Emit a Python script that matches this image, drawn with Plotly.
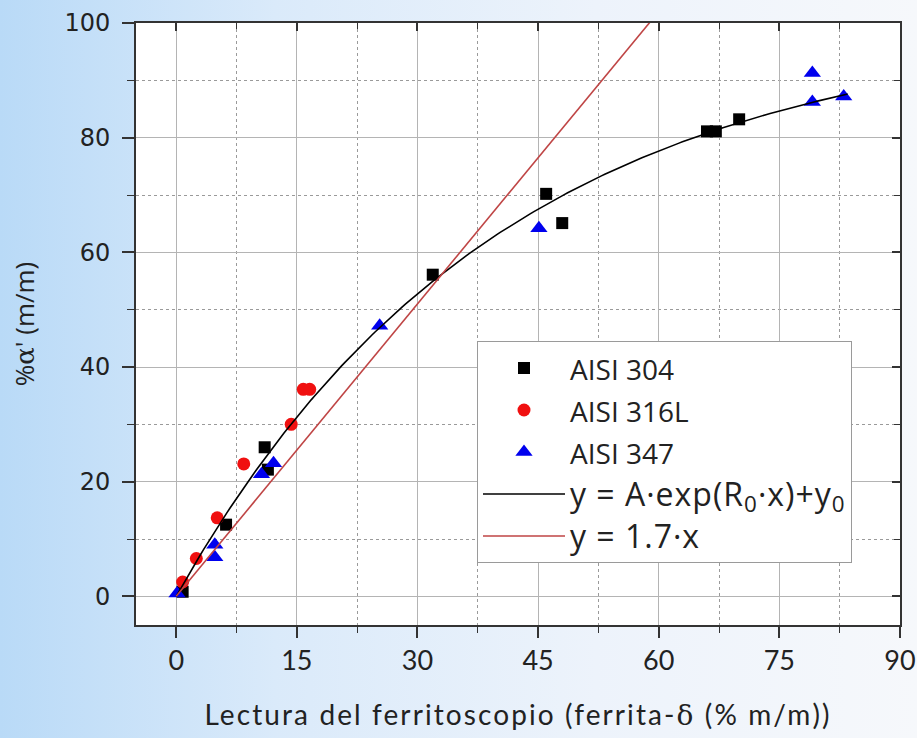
import base64
import numpy as np
import plotly.graph_objects as go

# Ferritoscope reading (delta-ferrite, % m/m) vs. measured alpha' martensite (% m/m)
aisi304_x = [0.8, 6.2, 11.0, 11.4, 31.9, 46.0, 48.0, 66.0, 67.1, 70.0]
aisi304_y = [0.8, 12.5, 26.0, 22.1, 56.1, 70.2, 65.1, 81.1, 81.1, 83.2]

aisi316l_x = [0.8, 2.5, 5.1, 8.4, 14.3, 15.8, 16.6]
aisi316l_y = [2.5, 6.6, 13.7, 23.1, 30.0, 36.1, 36.1]

aisi347_x = [0.1, 4.8, 4.8, 10.6, 12.1, 25.3, 45.1, 79.1, 79.1, 83.0]
aisi347_y = [0.5, 9.0, 6.8, 21.3, 23.2, 47.2, 64.2, 91.3, 86.2, 87.2]

# Exponential fit y = A*exp(R0*x) + y0
fit_A = -100.0
fit_R0 = -0.025
fit_y0 = 100.0
fit_x_range = [0.0, 83.5]

# Linear reference y = 1.7*x
line_slope = 1.7
line_x_range = [0.0, 60.0]

x_ticks = [0, 15, 30, 45, 60, 75, 90]
y_ticks = [0, 20, 40, 60, 80, 100]
x_range = [-5, 90]
y_range = [-5, 100]

fit_x = np.linspace(fit_x_range[0], fit_x_range[1], 200)
fit_y = fit_A * np.exp(fit_R0 * fit_x) + fit_y0
lin_x = np.array(line_x_range)
lin_y = line_slope * lin_x

W, H = 917, 738
ML, MR, MT, MB = 136, 17, 23, 113
pw, ph = W - ML - MR, H - MT - MB


def small(label):
    return f"<span style='font-size:28px'>{label}</span>"


def big(label):
    return f"<span style='font-size:32px;letter-spacing:1px'>{label}</span>"


fig = go.Figure()
fig.add_trace(go.Scatter(
    x=aisi304_x, y=aisi304_y, mode="markers", name=small("AISI 304"),
    legendgroup="a", marker=dict(symbol="square", size=12, color="black")))
fig.add_trace(go.Scatter(
    x=aisi316l_x, y=aisi316l_y, mode="markers", name=small("AISI 316L"),
    legendgroup="b", marker=dict(symbol="circle", size=13, color="#f01010")))
fig.add_trace(go.Scatter(
    x=aisi347_x, y=aisi347_y, mode="markers", name=small("AISI 347"),
    legendgroup="c", marker=dict(symbol="triangle-up", size=15, color="#0000ee")))
fig.add_trace(go.Scatter(
    x=fit_x, y=fit_y, mode="lines",
    name=big("y = A·exp(R<sub>0</sub>·x)+y<sub>0</sub>"),
    legendgroup="d", line=dict(color="black", width=1.6)))
fig.add_trace(go.Scatter(
    x=lin_x, y=lin_y, mode="lines", name=big("y = 1.7·x"),
    legendgroup="e", line=dict(color="#bf4545", width=1.6)))
# carrier for the inward tick marks on the top/right frame
fig.add_trace(go.Scatter(x=[None], y=[None], xaxis="x2", yaxis="y2",
                         showlegend=False, hoverinfo="skip"))

grid_major = "#b4b4b4"
grid_minor = "#9a9a9a"

fig.update_layout(
    width=W, height=H,
    margin=dict(l=ML, r=MR, t=MT, b=MB),
    paper_bgcolor="white", plot_bgcolor="white",
    showlegend=True,
    legend=dict(
        x=(477 - ML) / pw, y=(H - MB - 341) / ph, xanchor="left", yanchor="top",
        bgcolor="white", bordercolor="#9a9a9a", borderwidth=1,
        font=dict(family="Open Sans", size=30, color="#222"),
        tracegroupgap=0, itemwidth=82,
    ),
    xaxis=dict(
        range=x_range, tickvals=x_ticks, ticks="outside", ticklen=11, tickwidth=1.5,
        tickcolor="#333", showline=True, linecolor="#333", linewidth=2, mirror=True,
        showgrid=True, gridcolor=grid_major, gridwidth=1, zeroline=False,
        tickfont=dict(family="Lato", size=27, color="#222"),
        minor=dict(dtick=7.5, tick0=0, ticks="outside", ticklen=6, tickwidth=1.2,
                   tickcolor="#333", showgrid=True, gridcolor=grid_minor,
                   griddash="dot", gridwidth=1),
        title=dict(text="<span style='letter-spacing:2.1px'>Lectura del ferritoscopio (ferrita-"
                        "<span style='font-family:DejaVu Serif'>δ</span> (% m/m))</span>",
                   font=dict(family="Lato", size=28, color="#222"), standoff=30),
        automargin=False,
    ),
    yaxis=dict(
        range=y_range, tickvals=y_ticks, ticks="outside", ticklen=12, tickwidth=1.5,
        tickcolor="#333", showline=True, linecolor="#333", linewidth=2, mirror=True,
        showgrid=True, gridcolor=grid_major, gridwidth=1, zeroline=False,
        tickfont=dict(family="DejaVu Sans", size=24, color="#222"),
        ticklabelstandoff=7,
        minor=dict(dtick=10, tick0=0, ticks="outside", ticklen=7, tickwidth=1.2,
                   tickcolor="#333", showgrid=True, gridcolor=grid_minor,
                   griddash="dot", gridwidth=1),
        title=dict(text="%<span style='font-family:DejaVu Serif'>α</span>' (m/m)",
                   font=dict(family="Open Sans", size=26, color="#222"), standoff=22),
        automargin=False,
    ),
    xaxis2=dict(
        overlaying="x", matches="x", side="top", anchor="y", range=x_range,
        tickvals=x_ticks, ticks="inside", ticklen=8, tickwidth=1.5, tickcolor="#333",
        showticklabels=False, showgrid=False, showline=False, zeroline=False,
        minor=dict(dtick=7.5, tick0=0, ticks="inside", ticklen=6, tickwidth=1.2,
                   tickcolor="#333", showgrid=False),
    ),
    yaxis2=dict(
        overlaying="y", matches="y", side="right", anchor="x", range=y_range,
        tickvals=y_ticks, ticks="inside", ticklen=8, tickwidth=1.5, tickcolor="#333",
        showticklabels=False, showgrid=False, showline=False, zeroline=False,
        minor=dict(dtick=10, tick0=0, ticks="inside", ticklen=6, tickwidth=1.2,
                   tickcolor="#333", showgrid=False),
    ),
)

# soft blue backdrop behind the whole figure, plot area kept white
svg = (
    f'<svg xmlns="http://www.w3.org/2000/svg" width="{W}" height="{H}">'
    '<defs><linearGradient id="g" x1="0" y1="0" x2="1" y2="0">'
    '<stop offset="0" stop-color="#b9daf7"/>'
    '<stop offset="0.3" stop-color="#daeafa"/>'
    '<stop offset="0.65" stop-color="#edf3fb"/>'
    '<stop offset="1" stop-color="#f6f8fb"/>'
    '</linearGradient></defs>'
    '<rect width="100%" height="100%" fill="url(#g)"/></svg>'
)
src = "data:image/svg+xml;base64," + base64.b64encode(svg.encode()).decode()
fig.add_layout_image(dict(
    source=src, xref="paper", yref="paper",
    x=-ML / pw, y=1 + MT / ph, sizex=W / pw, sizey=H / ph,
    xanchor="left", yanchor="top", sizing="stretch", layer="below"))
fig.add_shape(type="rect", xref="paper", yref="paper", x0=0, x1=1, y0=0, y1=1,
              fillcolor="white", line=dict(width=0), layer="below")

fig.write_html("out.html")
